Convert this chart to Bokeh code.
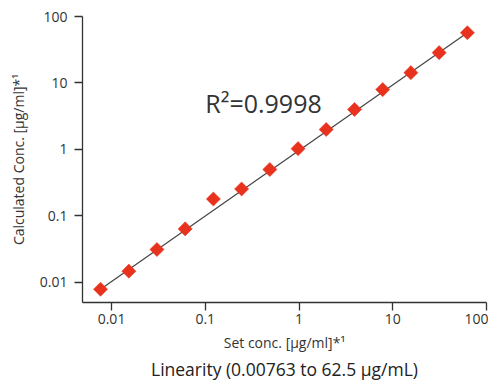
from bokeh.plotting import figure
from bokeh.models import FixedTicker, Label, ColumnDataSource
from bokeh.embed import file_html
from bokeh.resources import INLINE
import numpy as np

# Data
set_conc = [0.00763, 0.0153, 0.0305, 0.061, 0.122, 0.244, 0.488, 0.977,
            1.95, 3.91, 7.81, 15.6, 31.25, 62.5]
calc_conc = [0.0079, 0.0148, 0.0313, 0.064, 0.18, 0.255, 0.50, 1.03,
             2.0, 4.0, 7.96, 14.3, 28.6, 57.0]
fit_x = [0.00763, 62.5]
fit_y = [0.0079, 57.0]
tick_vals = [0.01, 0.1, 1, 10, 100]
tick_labels = ["0.01", "0.1", "1", "10", "100"]

FONT = "Open Sans"
TXT = "#333333"

p = figure(width=488, height=380, x_axis_type="log", y_axis_type="log",
           x_range=(0.0049, 100), y_range=(0.005, 100),
           output_backend="svg", toolbar_location=None,
           min_border_left=82, min_border_right=2, min_border_top=16,
           min_border_bottom=77, title_location="below",
           title="Linearity (0.00763 to 62.5 μg/mL)")

p.outline_line_color = None
p.xgrid.visible = False
p.ygrid.visible = False

p.title.text_font = FONT
p.title.text_font_size = "17.5px"
p.title.text_font_style = "normal"
p.title.text_color = "#222222"
p.title.align = "center"
p.title.standoff = 0

for ax in (p.xaxis[0], p.yaxis[0]):
    ax.ticker = FixedTicker(ticks=tick_vals)
    ax.major_label_overrides = {v: l for v, l in zip(tick_vals, tick_labels)}
    ax.minor_tick_line_color = None
    ax.major_tick_out = 8
    ax.major_tick_in = 0
    ax.axis_line_color = "#333333"
    ax.major_tick_line_color = "#333333"
    ax.axis_line_width = 1.3
    ax.major_tick_line_width = 1.3
    ax.major_label_text_font = FONT
    ax.major_label_text_font_size = "14px"
    ax.major_label_text_color = TXT
    ax.axis_label_text_font = FONT
    ax.axis_label_text_font_size = "14px"
    ax.axis_label_text_font_style = "normal"
    ax.axis_label_text_color = TXT

p.xaxis.axis_label = "Set conc. [μg/ml]*¹"
p.yaxis.axis_label = "Calculated Conc. [μg/ml]*¹"
p.xaxis.major_label_standoff = 3
p.yaxis.major_label_standoff = 7
p.xaxis.axis_label_standoff = 6
p.yaxis.axis_label_standoff = 9

p.line(fit_x, fit_y, line_color="#444444", line_width=1.2)

src = ColumnDataSource(dict(x=set_conc, y=calc_conc))
p.scatter("x", "y", source=src, marker="square", size=10, angle=np.pi / 4,
          fill_color="#e8321e", line_color="#e8321e", line_width=0.5)

p.add_layout(Label(x=0.1, y=5.0, text="R²=0.9998", text_font=FONT,
                   text_font_size="25px", text_color="#333333",
                   text_baseline="middle", text_align="left"))

open("out.html", "w").write(file_html(p, INLINE))
